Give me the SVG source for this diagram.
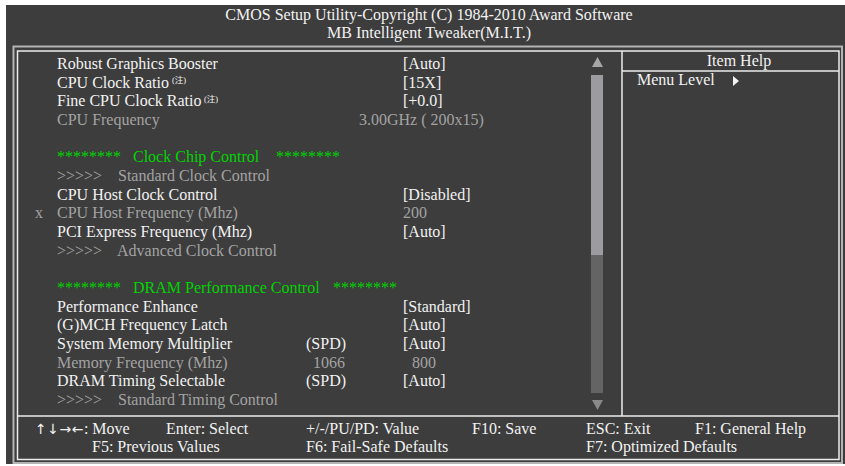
<svg xmlns="http://www.w3.org/2000/svg" width="845" height="466" viewBox="0 0 845 466">
<style>
text{font-family:"Liberation Serif","DejaVu Serif",serif;font-size:16px;fill:#f2f2f2}
.g{fill:#a3a3a3}
.gr{fill:#00d400}
.sup{font-family:"Liberation Serif","Noto Sans CJK SC",serif;font-size:8.5px;fill:#f2f2f2}
.arr{font-family:"DejaVu Sans",sans-serif;font-size:14px;letter-spacing:0.5px}
.c{text-anchor:middle}
.ln{stroke:#ececec;stroke-width:1.5;fill:none}
</style>
<rect x="0" y="0" width="845" height="466" fill="#ffffff"/>
<rect x="6" y="5" width="839" height="459" fill="#3d3d3d"/>
<g id="title">
<text class="c" x="429" y="20">CMOS Setup Utility-Copyright (C) 1984-2010 Award Software</text>
<text class="c" x="429" y="38">MB Intelligent Tweaker(M.I.T.)</text>
</g>
<g id="frame">
<rect x="13.5" y="46.5" width="828.5" height="416.5" fill="none" stroke="#b4b4b4" stroke-width="2"/>
<rect x="17.5" y="51" width="821.5" height="408.5" class="ln"/>
<line x1="622" y1="51" x2="622" y2="416" class="ln"/>
<line x1="622" y1="71" x2="839" y2="71" class="ln"/>
<line x1="17.5" y1="416" x2="839" y2="416" class="ln"/>
</g>
<g id="items">
<text x="57" y="69">Robust Graphics Booster</text><text x="403" y="69">[Auto]</text>
<text x="57" y="87.7">CPU Clock Ratio</text><text class="sup" x="172" y="83">(注)</text><text x="403" y="87.7">[15X]</text>
<text x="57" y="106.3">Fine CPU Clock Ratio</text><text class="sup" x="204" y="102">(注)</text><text x="403" y="106.3">[+0.0]</text>
<text class="g" x="57" y="125">CPU Frequency</text><text class="g" x="359" y="125">3.00GHz ( 200x15)</text>
<text class="gr" x="57" y="162.3">********</text><text class="gr" x="133" y="162.3">Clock Chip Control</text><text class="gr" x="276" y="162.3">********</text>
<text class="g" x="57" y="181">&gt;&gt;&gt;&gt;&gt;</text><text class="g" x="118" y="181">Standard Clock Control</text>
<text x="57" y="199.7">CPU Host Clock Control</text><text x="403" y="199.7">[Disabled]</text>
<text class="g" x="35" y="218.3">x</text><text class="g" x="57" y="218.3">CPU Host Frequency (Mhz)</text><text class="g" x="403" y="218.3">200</text>
<text x="57" y="237">PCI Express Frequency (Mhz)</text><text x="403" y="237">[Auto]</text>
<text class="g" x="57" y="255.7">&gt;&gt;&gt;&gt;&gt;</text><text class="g" x="117" y="255.7">Advanced Clock Control</text>
<text class="gr" x="57" y="293">********</text><text class="gr" x="133" y="293">DRAM Performance Control</text><text class="gr" x="333" y="293">********</text>
<text x="57" y="311.7">Performance Enhance</text><text x="403" y="311.7">[Standard]</text>
<text x="57" y="330.3">(G)MCH Frequency Latch</text><text x="403" y="330.3">[Auto]</text>
<text x="57" y="349">System Memory Multiplier</text><text x="306" y="349">(SPD)</text><text x="403" y="349">[Auto]</text>
<text class="g" x="57" y="367.7">Memory Frequency (Mhz)</text><text class="g" x="313" y="367.7">1066</text><text class="g" x="412" y="367.7">800</text>
<text x="57" y="386.3">DRAM Timing Selectable</text><text x="306" y="386.3">(SPD)</text><text x="403" y="386.3">[Auto]</text>
<text class="g" x="57" y="405">&gt;&gt;&gt;&gt;&gt;</text><text class="g" x="118" y="405">Standard Timing Control</text>
</g>
<g id="scrollbar">
<polygon points="592,67 603,67 597.5,57" fill="#a6a6a6"/>
<rect x="591" y="75" width="12" height="180" fill="#9b9ba0"/>
<rect x="591" y="255" width="12" height="138" fill="#646464"/>
<polygon points="592,400 603,400 597.5,410" fill="#8a8a8a"/>
</g>
<g id="help">
<text class="c" x="739" y="66">Item Help</text>
<text x="637" y="85">Menu Level</text>
<polygon points="733,76 739,81 733,86" fill="#f2f2f2"/>
</g>
<g id="footer">
<text x="35" y="434"><tspan class="arr">↑↓→←</tspan>: Move</text>
<text x="166" y="434">Enter: Select</text>
<text x="306" y="434">+/-/PU/PD: Value</text>
<text x="472" y="434">F10: Save</text>
<text x="586" y="434">ESC: Exit</text>
<text x="695" y="434">F1: General Help</text>
<text x="92" y="452">F5: Previous Values</text>
<text x="306" y="452">F6: Fail-Safe Defaults</text>
<text x="586" y="452">F7: Optimized Defaults</text>
</g>
</svg>
